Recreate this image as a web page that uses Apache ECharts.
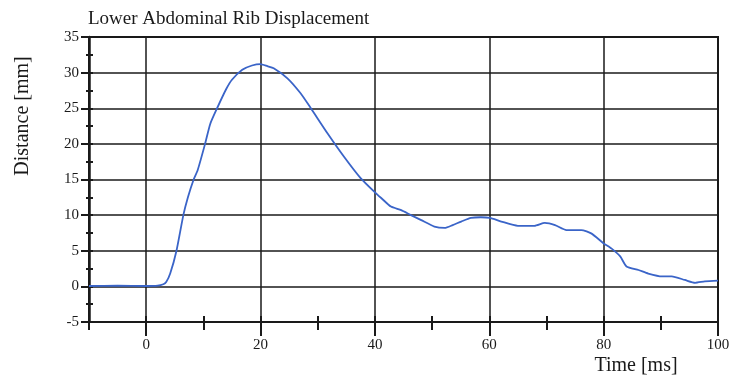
<!DOCTYPE html>
<html>
<head>
<meta charset="utf-8">
<script src="https://cdn.jsdelivr.net/npm/echarts@6/dist/echarts.min.js"></script>
<style>
  html, body { margin: 0; padding: 0; background: #fff; }
  #chart-container { width: 733px; height: 379px; }
</style>
</head>
<body>
<div id="chart-container"></div>
<script>
// values
var timeMs = [-10, -5, 0, 2, 3, 3.5, 4.2, 5.3, 6.5, 7.3, 8.3, 9.0, 10.3, 11.2, 12.4, 14.0, 15.0, 16.8, 18.5, 20,
  21.2, 22.3, 24.7, 27.0, 28.8, 31.7, 34.6, 37.5, 40, 41.1, 42.8, 44.6, 46.3, 48.1, 50.4, 52.2, 53.6, 55.1, 56.8,
  58.5, 60.1, 62.1, 65.0, 67.9, 69.7, 71.5, 73.5, 76.1, 77.9, 79.9, 81.4, 82.9, 84.0, 86.1, 87.8, 90.2, 91.9,
  94.2, 96.0, 97.7, 100];
var distanceMm = [0.05, 0.1, 0.05, 0.1, 0.3, 0.6, 1.8, 5.0, 10.0, 12.5, 15.0, 16.3, 20.0, 22.8, 25.0, 27.7, 29.0, 30.4, 31.0, 31.2,
  30.9, 30.6, 29.2, 27.1, 25.0, 21.5, 18.2, 15.2, 13.2, 12.4, 11.2, 10.7, 10.0, 9.3, 8.4, 8.2, 8.6, 9.1, 9.6,
  9.7, 9.6, 9.1, 8.5, 8.5, 8.9, 8.6, 7.9, 7.9, 7.4, 6.1, 5.3, 4.2, 2.8, 2.3, 1.8, 1.4, 1.4,
  0.9, 0.5, 0.7, 0.8];
var xLabels = [0, 20, 40, 60, 80, 100];

var serif = 'Liberation Serif';
var ink = '#1a1a1a';

var points = timeMs.map(function (t, i) { return [t, distanceMm[i]]; });

var dom = document.getElementById('chart-container');
var myChart = echarts.init(dom, null, { renderer: 'canvas' });

var option = {
  animation: false,
  title: {
    text: 'Lower Abdominal Rib Displacement',
    left: 83,
    top: 5,
    textStyle: { fontFamily: serif, fontSize: 19, fontWeight: 'normal', color: ink }
  },
  grid: {
    left: 89, right: 15, top: 37, bottom: 57,
    show: true, borderColor: ink, borderWidth: 2, backgroundColor: '#fff'
  },
  xAxis: [
    {
      type: 'value', position: 'bottom', min: -10, max: 100, interval: 10,
      axisLine: { onZero: false, lineStyle: { color: ink, width: 2 } },
      axisTick: { length: 8, lineStyle: { color: ink, width: 2 } },
      axisLabel: {
        margin: 16, fontFamily: serif, fontSize: 15, color: ink,
        formatter: function (v) { return xLabels.indexOf(v) >= 0 ? String(v) : ''; }
      },
      splitLine: { show: true, lineStyle: { color: ['rgba(0,0,0,0)', ink], width: 1.5 } }
    },
    {
      // short ticks poking up into the plot
      type: 'value', position: 'bottom', min: -10, max: 100, interval: 10,
      axisLine: { show: false, onZero: false },
      axisTick: { inside: true, length: 6, lineStyle: { color: ink, width: 2 } },
      axisLabel: { show: false },
      splitLine: { show: false }
    },
    {
      // longer ticks under the labelled values
      type: 'value', position: 'bottom', min: -10, max: 100, interval: 10,
      axisLine: { show: false, onZero: false },
      axisTick: { show: true, length: 14, customValues: xLabels, lineStyle: { color: ink, width: 2 } },
      axisLabel: { show: false },
      splitLine: { show: false }
    }
  ],
  yAxis: [
    {
      type: 'value', position: 'left', min: -5, max: 35, interval: 5,
      axisLine: { show: true, onZero: false, lineStyle: { color: ink, width: 2.5 } },
      axisTick: { show: true, length: 8, lineStyle: { color: ink, width: 2 } },
      axisLabel: { margin: 10, fontFamily: serif, fontSize: 15, color: ink },
      splitLine: { show: true, lineStyle: { color: ink, width: 1.5 } }
    },
    {
      type: 'value', position: 'left', min: -5, max: 35, interval: 2.5,
      axisLine: { show: false, onZero: false },
      axisTick: { show: true, inside: true, length: 4, lineStyle: { color: ink, width: 2 } },
      axisLabel: { show: false },
      splitLine: { show: false }
    },
    {
      type: 'value', position: 'left', min: -5, max: 35, interval: 2.5,
      axisLine: { show: false, onZero: false },
      axisTick: { show: true, length: 3, lineStyle: { color: ink, width: 2 } },
      axisLabel: { show: false },
      splitLine: { show: false }
    }
  ],
  graphic: [
    {
      type: 'text', x: 636, y: 366,
      style: { text: 'Time [ms]', fontFamily: serif, fontSize: 20, fill: ink, textAlign: 'center', textVerticalAlign: 'middle' }
    },
    {
      type: 'text', x: 23, y: 116, rotation: Math.PI / 2,
      style: { text: 'Distance [mm]', fontFamily: serif, fontSize: 20, fill: ink, textAlign: 'center', textVerticalAlign: 'middle' }
    }
  ],
  series: [
    {
      name: 'Lower Abdominal Rib Displacement',
      type: 'line',
      data: points,
      showSymbol: false,
      smooth: 0.2,
      lineStyle: { color: '#3a64c8', width: 1.8 },
      z: 5
    }
  ]
};

myChart.setOption(option);
window.addEventListener('resize', myChart.resize);
</script>
</body>
</html>
